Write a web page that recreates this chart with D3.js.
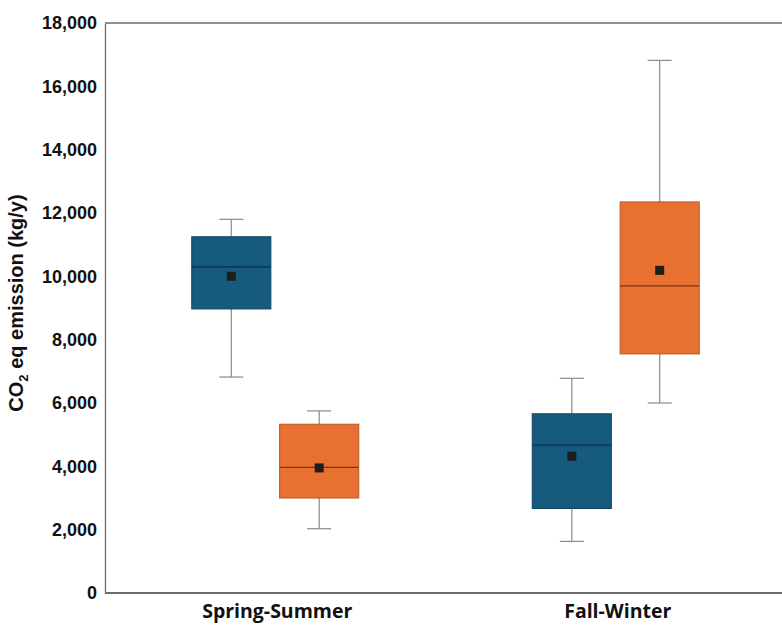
<!DOCTYPE html>
<html>
<head>
<meta charset="utf-8">
<script src="https://cdn.jsdelivr.net/npm/d3@7"></script>
<style>
  body { margin: 0; background: #fff; overflow: hidden; }
  svg { display: block; }
</style>
</head>
<body>
<svg id="chart"></svg>
<script>
const width = 782;
const height = 625;

// data
const seasons = ['Spring-Summer', 'Fall-Winter'];
const groups = ['A', 'B'];
const groupColors = ['#165a7e', '#e87132'];
const groupStroke = ['#0f4562', '#b8571f'];
// [whisker low, q1, median, q3, whisker high, mean] per season, per group
const statsA = [
    [6820, 8970, 10300, 11250, 11800, 10000],
    [1630, 2670, 4670, 5660, 6780, 4320]
];
const statsB = [
    [2030, 3000, 3970, 5330, 5750, 3950],
    [6000, 7550, 9700, 12350, 16820, 10190]
];
const yTicks = [0, 2000, 4000, 6000, 8000, 10000, 12000, 14000, 16000, 18000];
const yLabel = 'eq emission (kg/y)';

const margin = { top: 23, right: -4, bottom: 32, left: 105 };

const svg = d3.select('#chart')
    .attr('width', width)
    .attr('height', height);

const x = d3.scaleBand()
    .domain(seasons)
    .range([margin.left, width - margin.right]);

const xSub = d3.scaleBand()
    .domain(groups)
    .range([x.bandwidth() / 2 - 83.5, x.bandwidth() / 2 + 83.5])
    .paddingInner(0.1)
    .paddingOuter(0);

const y = d3.scaleLinear()
    .domain([0, 18000])
    .range([height - margin.bottom, margin.top]);

// frame: top and bottom lines run off the right edge, left axis
svg.append('path')
    .attr('d', `M${margin.left},${y(18000)}H${width + 10}`)
    .attr('fill', 'none')
    .attr('stroke', '#6b6b6b').attr('stroke-width', 1.3);
svg.append('path')
    .attr('d', `M${margin.left},${y(0)}H${width + 10}`)
    .attr('fill', 'none')
    .attr('stroke', '#6b6b6b').attr('stroke-width', 1.8);

const gy = svg.append('g')
    .attr('transform', `translate(${margin.left},0)`)
    .call(d3.axisLeft(y).tickValues(yTicks).tickSize(0).tickPadding(8).tickFormat(d3.format(',')));
gy.select('.domain').attr('stroke', '#6b6b6b').attr('stroke-width', 1.3);
gy.selectAll('text')
    .attr('font-family', 'Liberation Sans, Arial, sans-serif')
    .attr('font-weight', 'bold')
    .attr('font-size', 18)
    .attr('fill', '#111');

const gx = svg.append('g')
    .attr('transform', `translate(0,${y(0)})`)
    .call(d3.axisBottom(x).tickSize(0).tickPadding(11));
gx.select('.domain').remove();
gx.selectAll('text')
    .attr('font-family', 'Open Sans, sans-serif')
    .attr('font-weight', 'bold')
    .attr('font-size', 19.5)
    .attr('fill', '#111')
    .attr('dx', 2);

// y axis title with subscript
const title = svg.append('text')
    .attr('transform', `translate(23,${y(9000) - 5}) rotate(-90)`)
    .attr('text-anchor', 'middle')
    .attr('font-family', 'Liberation Sans, Arial, sans-serif')
    .attr('font-weight', 'bold')
    .attr('font-size', 20)
    .attr('fill', '#111');
title.append('tspan').text('CO');
title.append('tspan').text('2').attr('font-size', 13).attr('dy', 5);
title.append('tspan').text(' ' + yLabel).attr('dy', -5);

// boxes
const boxData = [];
seasons.forEach((s, i) => {
    [statsA, statsB].forEach((st, g) => {
        const [lo, q1, med, q3, hi, mean] = st[i];
        boxData.push({ season: s, group: groups[g], gi: g, lo, q1, med, q3, hi, mean });
    });
});

const boxes = svg.append('g').selectAll('g')
    .data(boxData)
    .join('g')
    .attr('transform', d => `translate(${x(d.season) + xSub(d.group)},0)`);

const bw = xSub.bandwidth();
const capW = 24;

// whiskers
boxes.append('line')
    .attr('x1', bw / 2).attr('x2', bw / 2)
    .attr('y1', d => y(d.hi)).attr('y2', d => y(d.q3))
    .attr('stroke', '#8a8a8a').attr('stroke-width', 1.2);
boxes.append('line')
    .attr('x1', bw / 2).attr('x2', bw / 2)
    .attr('y1', d => y(d.q1)).attr('y2', d => y(d.lo))
    .attr('stroke', '#8a8a8a').attr('stroke-width', 1.2);
boxes.append('line')
    .attr('x1', bw / 2 - capW / 2).attr('x2', bw / 2 + capW / 2)
    .attr('y1', d => y(d.hi)).attr('y2', d => y(d.hi))
    .attr('stroke', '#8a8a8a').attr('stroke-width', 1.2);
boxes.append('line')
    .attr('x1', bw / 2 - capW / 2).attr('x2', bw / 2 + capW / 2)
    .attr('y1', d => y(d.lo)).attr('y2', d => y(d.lo))
    .attr('stroke', '#8a8a8a').attr('stroke-width', 1.2);

boxes.append('rect')
    .attr('x', 0)
    .attr('width', bw)
    .attr('y', d => y(d.q3))
    .attr('height', d => y(d.q1) - y(d.q3))
    .attr('fill', d => groupColors[d.gi])
    .attr('stroke', d => groupStroke[d.gi])
    .attr('stroke-width', 1);

// median
boxes.append('line')
    .attr('x1', 0).attr('x2', bw)
    .attr('y1', d => y(d.med)).attr('y2', d => y(d.med))
    .attr('stroke', d => d.gi === 0 ? '#0b2f44' : '#7a3410')
    .attr('stroke-width', 1.3);

// mean marker
boxes.append('rect')
    .attr('x', bw / 2 - 4.5)
    .attr('y', d => y(d.mean) - 4.5)
    .attr('width', 9).attr('height', 9)
    .attr('fill', '#1e1e1e');
</script>
</body>
</html>
